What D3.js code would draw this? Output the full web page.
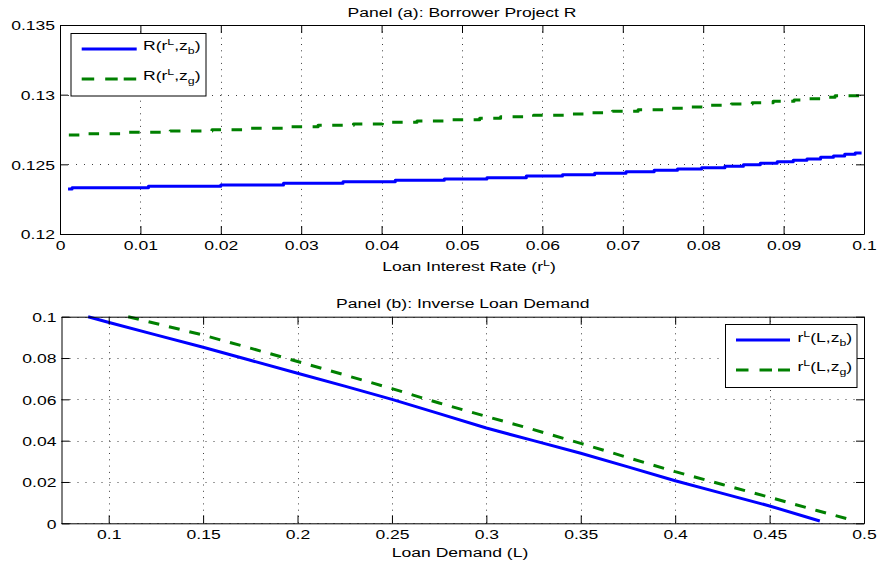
<!DOCTYPE html>
<html><head><meta charset="utf-8">
<script src="https://cdn.jsdelivr.net/npm/d3@7"></script>
<style>
body{margin:0;background:#fff;}
text{font-family:"Liberation Sans",Arial,Helvetica,sans-serif;fill:#000;}
</style></head>
<body><svg id="c" width="880" height="566"></svg>
<script>
// ---------- DATA ----------
// Panel (a): R(r^L, z_b) step curve
const rB = [0.001,0.0015,0.011,0.020,0.0278,0.0352,0.0417,0.0478,0.0531,0.0580,0.0625,0.0665,0.0704,0.0739,0.0768,0.0798,0.0827,0.0850,0.0871,0.0892,0.0912,0.0929,0.0946,0.0962,0.0976,0.0989,0.0997];
const RB = [0.12323,0.12332,0.12342,0.12352,0.12364,0.12375,0.12385,0.12395,0.12404,0.12416,0.12426,0.12436,0.12447,0.12457,0.12467,0.12476,0.12486,0.12497,0.12507,0.12519,0.12529,0.12538,0.12551,0.12560,0.12572,0.12581,0.12581];
// Panel (a): R(r^L, z_g) step curve
const rG = [0.0011,0.0031,0.0084,0.0137,0.0189,0.0234,0.0277,0.0321,0.0365,0.0401,0.0444,0.0479,0.0522,0.0548,0.0589,0.0627,0.0653,0.0687,0.0719,0.0757,0.0784,0.0809,0.0835,0.0861,0.0887,0.0913,0.0929,0.0950,0.0964,0.0997];
const RG = [0.12711,0.12720,0.12730,0.12739,0.12749,0.12759,0.12770,0.12780,0.12790,0.12802,0.12811,0.12820,0.12830,0.12842,0.12852,0.12861,0.12871,0.12881,0.12892,0.12902,0.12912,0.12924,0.12933,0.12942,0.12952,0.12962,0.12971,0.12981,0.12993,0.12993];
// Panel (b): inverse loan demand
const LB = [0.0891,0.0997,0.125,0.15,0.175,0.2,0.225,0.25,0.275,0.3,0.325,0.35,0.375,0.4,0.425,0.45,0.4766];
const rLB = [0.1,0.0973,0.0912,0.0852,0.0789,0.0726,0.0664,0.0600,0.0531,0.0461,0.0400,0.0339,0.0273,0.0206,0.0145,0.0084,0.0011];
const LG = [0.1103,0.125,0.15,0.175,0.2,0.225,0.25,0.275,0.3,0.3194,0.35,0.375,0.4,0.425,0.45,0.475,0.4922];
const rLG = [0.1,0.0967,0.0911,0.0848,0.0783,0.0718,0.0652,0.0582,0.0517,0.0468,0.0387,0.0318,0.0250,0.0188,0.0126,0.0062,0.0019];
// ticks
const xTicksA = [0,0.01,0.02,0.03,0.04,0.05,0.06,0.07,0.08,0.09,0.1];
const xLabelsA = ["0","0.01","0.02","0.03","0.04","0.05","0.06","0.07","0.08","0.09","0.1"];
const yTicksA = [0.12,0.125,0.13,0.135];
const yLabelsA = ["0.12","0.125","0.13","0.135"];
const xTicksB = [0.1,0.15,0.2,0.25,0.3,0.35,0.4,0.45,0.5];
const xLabelsB = ["0.1","0.15","0.2","0.25","0.3","0.35","0.4","0.45","0.5"];
const yTicksB = [0,0.02,0.04,0.06,0.08,0.1];
const yLabelsB = ["0","0.02","0.04","0.06","0.08","0.1"];

// ---------- STYLE ----------
const FS = 13.5, SX = 1.3;
const BLUE = "#0000ff", GREEN = "#008000";
const svg = d3.select("#c");

function richText(parent, x, y, anchor, parts){
  const t = parent.append("text")
    .attr("transform", `translate(${x},${y}) scale(${SX},1)`)
    .attr("text-anchor", anchor).attr("font-size", FS);
  let cur = 0;
  parts.forEach(p=>{
    const [s, type] = Array.isArray(p) ? p : [p, ""];
    const target = type==="sup" ? -5 : type==="sub" ? 4 : 0;
    t.append("tspan").attr("dy", target-cur)
      .attr("font-size", type ? 9.5 : FS).text(s);
    cur = target;
  });
  return t;
}

function panel(cfg){
  const xs = d3.scaleLinear().domain(cfg.xd).range(cfg.xr);
  const ys = d3.scaleLinear().domain(cfg.yd).range(cfg.yr);
  const g = svg.append("g");
  // grid
  const grid = g.append("g").attr("stroke","#000").attr("stroke-width",1).attr("opacity",0.75);
  grid.selectAll("line.v").data(cfg.xt).join("line")
    .attr("x1",d=>Math.round(xs(d))+0.5).attr("x2",d=>Math.round(xs(d))+0.5)
    .attr("y1",cfg.yr[0]).attr("y2",cfg.yr[1]).attr("stroke-dasharray","1,5.3");
  grid.selectAll("line.h").data(cfg.yt).join("line")
    .attr("y1",d=>Math.round(ys(d))+0.5).attr("y2",d=>Math.round(ys(d))+0.5)
    .attr("x1",cfg.xr[0]).attr("x2",cfg.xr[1]).attr("stroke-dasharray","1,7");
  // series
  cfg.series.forEach(s=>{
    const line = d3.line().x(d=>xs(d[0])).y(d=>ys(d[1]));
    if(s.step) line.curve(d3.curveStepAfter);
    g.append("path").datum(d3.zip(s.x, s.y)).attr("d", line)
      .attr("fill","none").attr("stroke", s.color).attr("stroke-width",3)
      .attr("stroke-dasharray", s.dash || null).attr("stroke-linejoin","round");
  });
  // axes
  const axB = g.append("g").attr("transform",`translate(0,${cfg.yr[0]})`)
    .call(d3.axisBottom(xs).tickValues(cfg.xt).tickFormat((d,i)=>cfg.xl[i]).tickSize(-8).tickSizeOuter(0));
  axB.selectAll("text").attr("y",16).attr("dy",null).attr("font-size",FS)
    .attr("transform",`scale(${SX},1)`);
  const axL = g.append("g").attr("transform",`translate(${cfg.xr[0]},0)`)
    .call(d3.axisLeft(ys).tickValues(cfg.yt).tickFormat((d,i)=>cfg.yl[i]).tickSize(-8).tickSizeOuter(0));
  axL.selectAll("text").attr("x",-5/SX).attr("dy",null).attr("y",4.7).attr("font-size",FS)
    .attr("transform",`scale(${SX},1)`);
  g.append("g").attr("transform",`translate(0,${cfg.yr[1]})`)
    .call(d3.axisTop(xs).tickValues(cfg.xt).tickFormat("").tickSize(-8).tickSizeOuter(0));
  g.append("g").attr("transform",`translate(${cfg.xr[1]},0)`)
    .call(d3.axisRight(ys).tickValues(cfg.yt).tickFormat("").tickSize(-8).tickSizeOuter(0));
  g.selectAll(".domain, .tick line").attr("stroke","#000").attr("stroke-width",1);
  // title & label
  richText(g, (cfg.xr[0]+cfg.xr[1])/2, cfg.titleY, "middle", [cfg.title]);
  richText(g, cfg.xlabX, cfg.xlabY, "middle", cfg.xlab);
  // legend
  const L = cfg.legend;
  g.append("rect").attr("x",L.x+0.5).attr("y",L.y+0.5).attr("width",L.w).attr("height",L.h)
    .attr("fill","#fff").attr("stroke","#000").attr("stroke-width",1);
  L.items.forEach(it=>{
    g.append("line").attr("x1",L.lx1).attr("x2",L.lx2).attr("y1",it.ly).attr("y2",it.ly)
      .attr("stroke",it.color).attr("stroke-width",3).attr("stroke-dasharray",it.dash||null);
    richText(g, L.tx, it.ty, "start", it.parts);
  });
}

panel({
  xd:[0,0.1], xr:[60,864], yd:[0.12,0.135], yr:[234,25],
  xt:xTicksA, xl:xLabelsA, yt:yTicksA, yl:yLabelsA,
  series:[
    {x:rB, y:RB, color:BLUE, step:true},
    {x:rG, y:RG, color:GREEN, step:true, dash:"10.5,10.5"}
  ],
  title:"Panel (a): Borrower Project R", titleY:17.3,
  xlab:["Loan Interest Rate (r",["L","sup"],")"], xlabX:469, xlabY:270.5,
  legend:{x:70.5,y:33,w:135,h:62.5,lx1:81.7,lx2:136.7,tx:143,
    items:[
      {ly:49,ty:50,color:BLUE,parts:["R(r",["L","sup"],",z",["b","sub"],")"]},
      {ly:79,ty:80,color:GREEN,dash:"12.5,11,12.5,6,12.5",parts:["R(r",["L","sup"],",z",["g","sub"],")"]}
    ]}
});

panel({
  xd:[0.075,0.5], xr:[61.5,864], yd:[0,0.1], yr:[523.3,316.7],
  xt:xTicksB, xl:xLabelsB, yt:yTicksB, yl:yLabelsB,
  series:[
    {x:LB, y:rLB, color:BLUE},
    {x:LG, y:rLG, color:GREEN, dash:"11,10"}
  ],
  title:"Panel (b): Inverse Loan Demand", titleY:308.3,
  xlab:["Loan Demand (L)"], xlabX:460, xlabY:556.5,
  legend:{x:725,y:324,w:131.5,h:63,lx1:736,lx2:790,tx:797.5,
    items:[
      {ly:340,ty:341.5,color:BLUE,parts:["r",["L","sup"],"(L,z",["b","sub"],")"]},
      {ly:370,ty:370.5,color:GREEN,dash:"12.5,11,12.5,6,12.5",parts:["r",["L","sup"],"(L,z",["g","sub"],")"]}
    ]}
});
</script></body></html>
